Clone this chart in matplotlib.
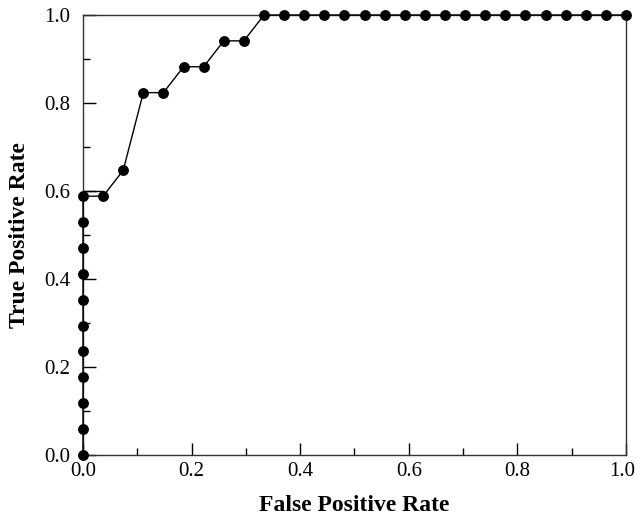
import numpy as np
import matplotlib
matplotlib.use("Agg")
import matplotlib.pyplot as plt
import matplotlib.transforms as mtransforms
from matplotlib.ticker import MultipleLocator

# ROC points: 27 negatives, 17 positives
fpr = [0, 0, 0, 0, 0, 0, 0, 0, 0, 0, 0,
       1/27, 2/27, 3/27, 4/27, 5/27, 6/27, 7/27, 8/27,
       9/27, 10/27, 11/27, 12/27, 13/27, 14/27, 15/27, 16/27, 17/27, 18/27,
       19/27, 20/27, 21/27, 22/27, 23/27, 24/27, 25/27, 26/27, 27/27]
tpr = [0, 1/17, 2/17, 3/17, 4/17, 5/17, 6/17, 7/17, 8/17, 9/17, 10/17,
       10/17, 11/17, 14/17, 14/17, 15/17, 15/17, 16/17, 16/17,
       1, 1, 1, 1, 1, 1, 1, 1, 1, 1,
       1, 1, 1, 1, 1, 1, 1, 1, 1]
# the short doubled segment near 0.6
dup_x = [0, 1/27]
dup_y = [0.6, 0.6]

plt.rcParams["font.family"] = ["Liberation Serif", "DejaVu Serif"]

fig = plt.figure(figsize=(6.37, 5.17), dpi=100)
ax = fig.add_axes([0.1303, 0.1199, 0.8524, 0.8511])

ax.plot(fpr, tpr, color="black", lw=1.0, marker="o", ms=6.8, clip_on=False, zorder=3)
ax.plot(dup_x, dup_y, color="black", lw=1.0, clip_on=False)

ax.set_xlim(0, 1)
ax.set_ylim(0, 1)
ax.set_xticks([0, 0.2, 0.4, 0.6, 0.8, 1.0])
ax.set_yticks([0, 0.2, 0.4, 0.6, 0.8, 1.0])
ax.xaxis.set_minor_locator(MultipleLocator(0.1))
ax.yaxis.set_minor_locator(MultipleLocator(0.1))
ax.xaxis.set_major_formatter(lambda v, p: f"{v:.1f}")
ax.yaxis.set_major_formatter(lambda v, p: f"{v:.1f}")
ax.tick_params(which="both", direction="in", top=False, right=False,
               labelsize=15, width=1.0, colors="black")
ax.tick_params(which="major", length=9)
ax.tick_params(which="minor", length=5)
ax.tick_params(axis="x", which="major", pad=5)
ax.tick_params(axis="y", which="major", pad=9)
for s in ax.spines.values():
    s.set_linewidth(1.0)
    s.set_color("#333333")

ax.set_xlabel("False Positive Rate", fontsize=17, fontweight="bold", labelpad=10)
ax.set_ylabel("True Positive Rate", fontsize=17, fontweight="bold", labelpad=10)

# keep the last x tick label inside the figure edge
last = ax.xaxis.get_major_ticks()[-1].label1
last.set_transform(last.get_transform() + mtransforms.ScaledTranslation(-3 / 72, 0, fig.dpi_scale_trans))

fig.savefig("out.png", dpi=100)
